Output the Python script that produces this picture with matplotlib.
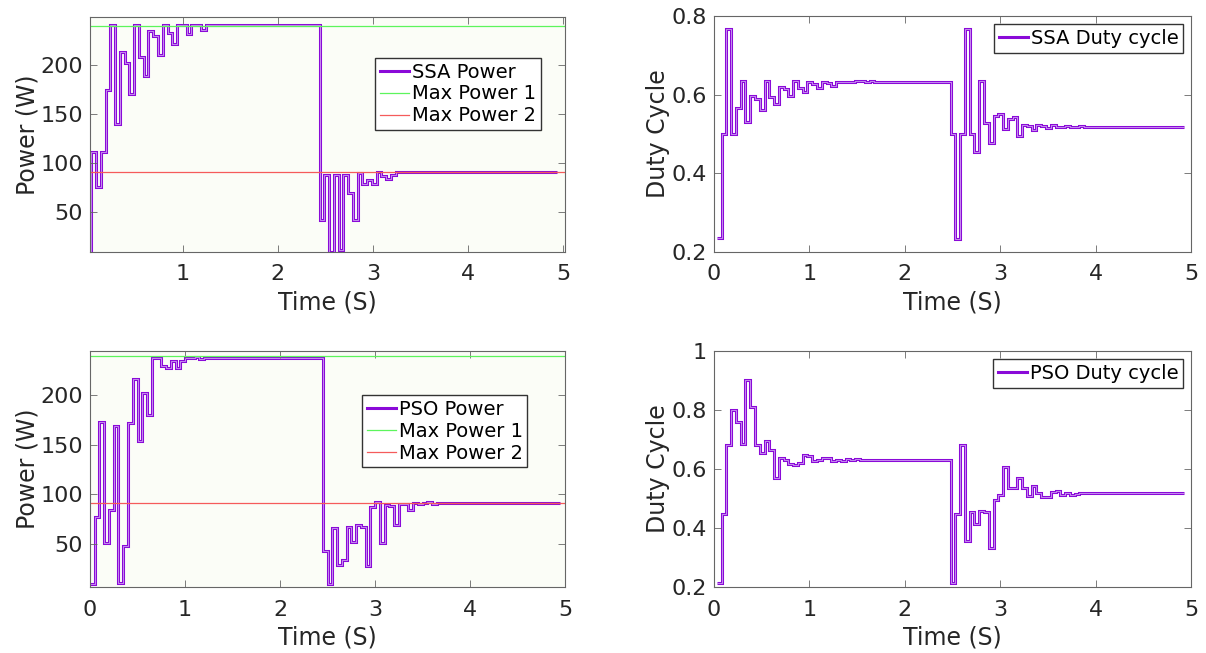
import numpy as np
import matplotlib
matplotlib.use('Agg')
import matplotlib.pyplot as plt

# values, one per 0.05 s step
ssa_power = ([111, 76, 111, 174, 240, 140, 213, 202, 170, 240, 208, 189, 234, 229, 210,
              240, 232, 221, 240, 240, 231, 240, 240, 235] + [240] * 24 +
             [42, 88, 10, 88, 12, 88, 69, 42, 90, 79, 83, 79, 91, 87, 84, 88, 91] + [91] * 33)
pso_power = ([77, 173, 51, 84, 169, 10, 48, 172, 217, 154, 202, 180, 238, 238, 230, 228,
              235, 228, 235, 238, 238, 239, 237, 238] + [238] * 24 +
             [42, 9, 66, 28, 33, 67, 52, 69, 67, 27, 87, 92, 51, 89, 88, 69, 90, 90, 84,
              91, 90, 91, 92, 90] + [91] * 26)
ssa_duty = ([0.501, 0.766, 0.500, 0.565, 0.634, 0.531, 0.597, 0.590, 0.560, 0.634, 0.594,
             0.576, 0.619, 0.615, 0.596, 0.635, 0.618, 0.608, 0.631, 0.628, 0.617, 0.631,
             0.629, 0.622, 0.633, 0.633, 0.633, 0.633, 0.634, 0.634, 0.631, 0.634] + [0.632] * 16 +
            [0.499, 0.234, 0.500, 0.766, 0.500, 0.455, 0.634, 0.529, 0.476, 0.545, 0.550,
             0.512, 0.537, 0.544, 0.495, 0.524, 0.520, 0.510, 0.524, 0.520, 0.516, 0.523,
             0.518, 0.518, 0.521, 0.518, 0.518, 0.521] + [0.519] * 21)
pso_duty = ([0.446, 0.683, 0.800, 0.758, 0.684, 0.902, 0.809, 0.683, 0.655, 0.695, 0.664,
             0.568, 0.636, 0.632, 0.616, 0.613, 0.622, 0.647, 0.644, 0.628, 0.632, 0.636,
             0.636, 0.628, 0.630, 0.627, 0.635, 0.629, 0.635] + [0.632] * 19 +
            [0.213, 0.446, 0.683, 0.355, 0.454, 0.415, 0.457, 0.454, 0.332, 0.494, 0.511,
             0.607, 0.534, 0.534, 0.570, 0.534, 0.508, 0.542, 0.517, 0.505, 0.505, 0.522,
             0.526, 0.511, 0.520, 0.513, 0.514, 0.520] + [0.517] * 21)

# initial value before the first step, and start time of each series
ssa_power_init, ssa_power_t0, ssa_power_start = 10, 0.03, 0.04
pso_power_init, pso_power_t0, pso_power_start = 9, 0.0, 0.05
ssa_duty_init, ssa_duty_t0, ssa_duty_start = 0.236, 0.03, 0.08
pso_duty_init, pso_duty_t0, pso_duty_start = 0.213, 0.03, 0.08
dt = 0.05
max_power_1 = 239.5
max_power_2 = 91

purple = '#8a0ad8'
text_c = '#262626'


def step_line(ax, vals, init, t0, start, label):
    v = np.r_[init, vals]
    edges = np.r_[t0, start + dt * np.arange(len(vals) + 1)]
    ax.stairs(v, edges, baseline=None, color=purple, lw=2.2, label=label)
    ax.stairs(v, edges, baseline=None, color='#dcc0f7', lw=0.5)


def style(ax):
    ax.tick_params(direction='in', top=True, right=True, length=5, width=0.6,
                   color='#666666', labelsize=16, labelcolor=text_c)
    ax.tick_params(axis='x', pad=9)
    ax.tick_params(axis='y', pad=5)
    for s in ax.spines.values():
        s.set_color('#666666')
        s.set_linewidth(0.8)
    ax.set_xlabel('Time (S)', fontsize=17, color=text_c, labelpad=4)


fig = plt.figure(figsize=(12.06, 6.53), dpi=100)
W, H = 1206, 653
ax1 = fig.add_axes([90 / W, 1 - 252 / H, 475 / W, 235 / H])
ax2 = fig.add_axes([714 / W, 1 - 252 / H, 477 / W, 236 / H])
ax3 = fig.add_axes([90 / W, 1 - 587 / H, 475 / W, 236 / H])
ax4 = fig.add_axes([714 / W, 1 - 587 / H, 477 / W, 236 / H])

leg_kw = dict(fontsize=14, fancybox=False, edgecolor='#333333', framealpha=1,
              handlelength=1.5, handletextpad=0.15, labelspacing=0.15,
              borderpad=0.25, borderaxespad=0)

# SSA power
step_line(ax1, ssa_power, ssa_power_init, ssa_power_t0, ssa_power_start, 'SSA Power')
ax1.axhline(max_power_1, color='#5cf55c', lw=0.9, label='Max Power 1')
ax1.axhline(max_power_2, color='#f55b5b', lw=0.9, label='Max Power 2')
ax1.set_xlim(0.025, 5.02)
ax1.set_ylim(9.5, 248.5)
ax1.set_xticks([1, 2, 3, 4, 5])
ax1.set_yticks([50, 100, 150, 200])
ax1.set_facecolor('#fbfdf7')
ax1.set_ylabel('Power (W)', fontsize=17, color=text_c, labelpad=1)
ax1.legend(loc='upper right', bbox_to_anchor=(0.949, 0.827), **leg_kw)
style(ax1)

# SSA duty
step_line(ax2, ssa_duty, ssa_duty_init, ssa_duty_t0, ssa_duty_start, 'SSA Duty cycle')
ax2.set_xlim(0, 5)
ax2.set_ylim(0.2, 0.8)
ax2.set_xticks([0, 1, 2, 3, 4, 5])
ax2.set_yticks([0.2, 0.4, 0.6, 0.8])
ax2.set_ylabel('Duty Cycle', fontsize=17, color=text_c, labelpad=1)
ax2.legend(loc='upper right', bbox_to_anchor=(0.984, 0.966), **leg_kw)
style(ax2)

# PSO power
step_line(ax3, pso_power, pso_power_init, pso_power_t0, pso_power_start, 'PSO Power')
ax3.axhline(max_power_1, color='#5cf55c', lw=0.9, label='Max Power 1')
ax3.axhline(max_power_2, color='#f55b5b', lw=0.9, label='Max Power 2')
ax3.set_xlim(0, 5)
ax3.set_ylim(6, 245)
ax3.set_xticks([0, 1, 2, 3, 4, 5])
ax3.set_yticks([50, 100, 150, 200])
ax3.set_facecolor('#fbfdf7')
ax3.set_ylabel('Power (W)', fontsize=17, color=text_c, labelpad=1)
ax3.legend(loc='upper right', bbox_to_anchor=(0.921, 0.814), **leg_kw)
style(ax3)

# PSO duty
step_line(ax4, pso_duty, pso_duty_init, pso_duty_t0, pso_duty_start, 'PSO Duty cycle')
ax4.set_xlim(0, 5)
ax4.set_ylim(0.2, 1)
ax4.set_xticks([0, 1, 2, 3, 4, 5])
ax4.set_yticks([0.2, 0.4, 0.6, 0.8, 1])
ax4.set_yticklabels(['0.2', '0.4', '0.6', '0.8', '1'])
ax4.set_ylabel('Duty Cycle', fontsize=17, color=text_c, labelpad=1)
ax4.legend(loc='upper right', bbox_to_anchor=(0.984, 0.966), **leg_kw)
style(ax4)

fig.savefig('out.png', dpi=100)
